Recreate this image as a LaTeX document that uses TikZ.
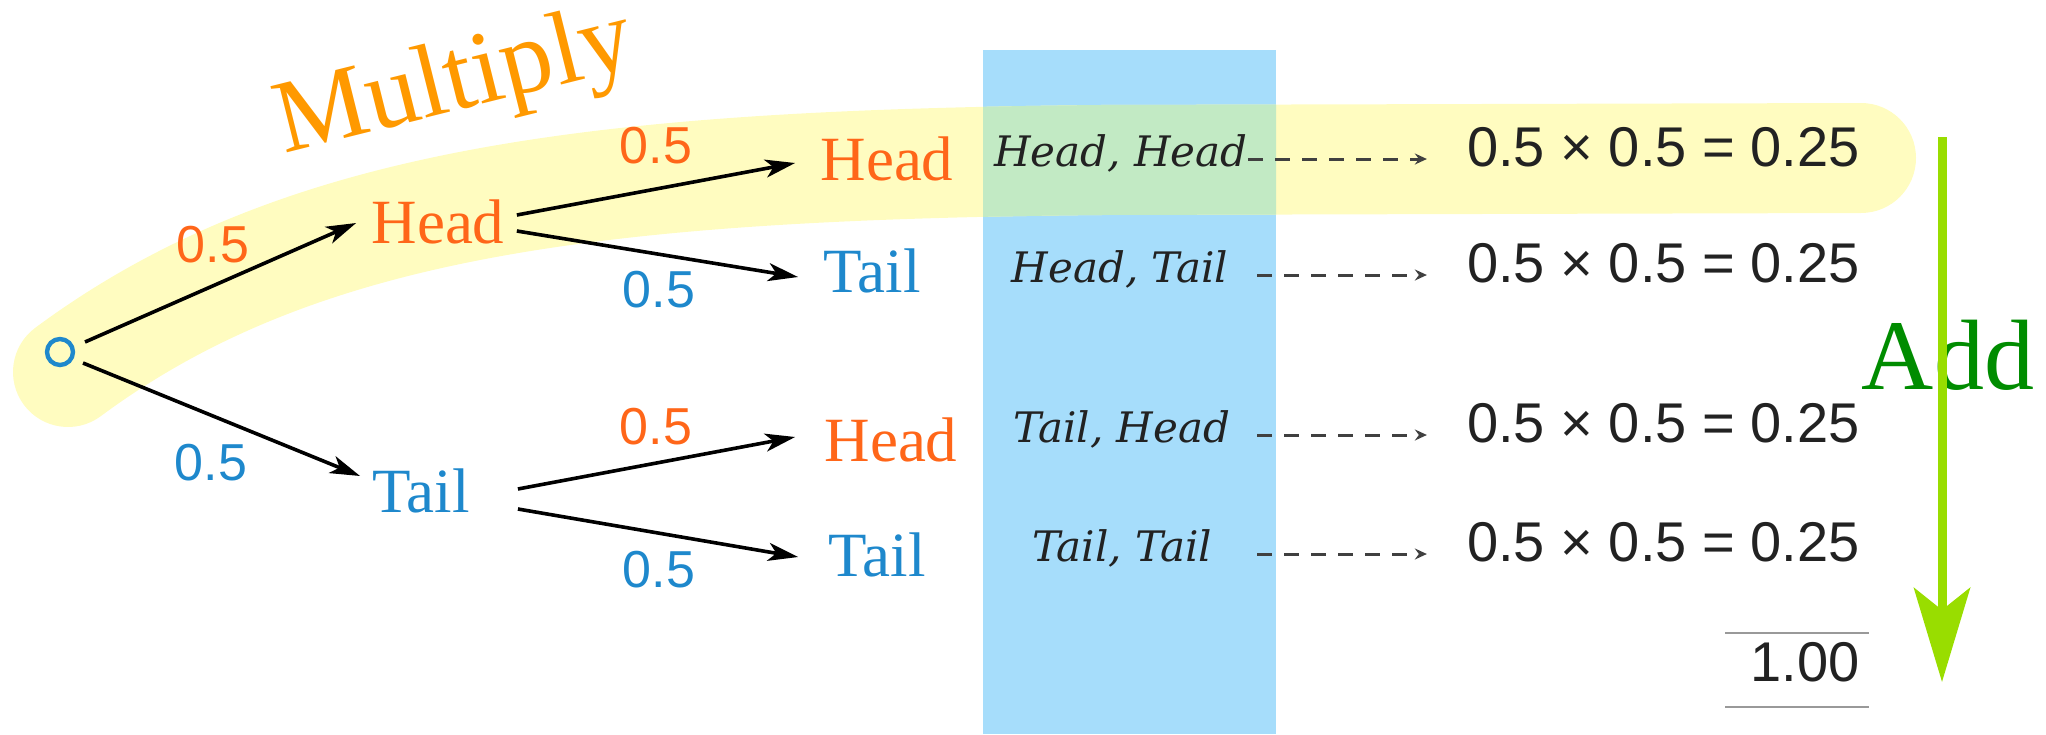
\documentclass[tikz,border=0pt]{standalone}
\usepackage{fontspec}
\setmainfont{Liberation Serif}
\newfontfamily\sansf{Liberation Sans}
\newfontfamily\combof{DejaVu Serif}
\usetikzlibrary{arrows.meta,calc}
\definecolor{hcol}{HTML}{FF6619}
\definecolor{tcol}{HTML}{1E88CC}
\definecolor{mulcol}{HTML}{FF9900}
\definecolor{addcol}{HTML}{008C00}
\definecolor{addarrow}{HTML}{99DD00}
\definecolor{bandblue}{HTML}{A6DDFB}
\definecolor{bandyellow}{HTML}{FFFCC0}
\definecolor{bandgreen}{HTML}{C2EAC4}
\definecolor{prodcol}{HTML}{222222}
\definecolor{rulegrey}{HTML}{999999}
\begin{document}
\begin{tikzpicture}[x=0.5pt,y=-0.5pt,
  treen/.style={inner sep=0pt, font=\fontsize{31.5}{36}\selectfont},
  headn/.style={treen, text=hcol},
  tailn/.style={treen, text=tcol},
  probh/.style={inner sep=0pt, text=hcol, font=\sansf\fontsize{26}{30}\selectfont},
  probt/.style={inner sep=0pt, text=tcol, font=\sansf\fontsize{26}{30}\selectfont},
  combo/.style={inner sep=0pt, text=prodcol, text height=0.73em, text depth=0pt, font=\combof\itshape\fontsize{21}{25}\selectfont},
  prod/.style={inner sep=0pt, anchor=east, text=prodcol, text height=0.716em, text depth=0pt, font=\sansf\fontsize{28}{32}\selectfont},
  treearr/.style={-{Stealth[length=15pt,width=9pt,inset=4pt]}, line width=1.8pt, black},
  dasharr/.style={-{Stealth[length=6pt,width=5.5pt,inset=2pt]}, line width=1.5pt, dash pattern=on 7.5pt off 6pt, black!75},
  rulel/.style={line width=1.3pt, rulegrey},
  band/.style={line width=55pt, line cap=round}
]
\useasboundingbox (0,0) rectangle (2046,734);
% blue column
\fill[bandblue] (983,50) rectangle (1276,734);
% yellow highlight path
\draw[band, bandyellow] (68,372) .. controls (300,200) and (600,165) .. (1100,160) -- (1861,158);
\begin{scope}
  \clip (983,50) rectangle (1276,734);
  \draw[band, bandgreen] (68,372) .. controls (300,200) and (600,165) .. (1100,160) -- (1861,158);
\end{scope}

% Multiply
\node[inner sep=0pt, text=mulcol, font=\fontsize{52}{60}\selectfont, rotate=14, anchor=base west] (mult) at (284,154) {Multiply};

% tree
\node[circle, draw=tcol, line width=2.2pt, minimum size=13pt, inner sep=0pt] (root) at (60,352) {};
\node[headn] (H1) at (438,222) {Head};
\node[tailn] (T1) at (421,491) {Tail};
\node[headn] (HH) at (887,159) {Head};
\node[tailn] (HT) at (872,271) {Tail};
\node[headn] (TH) at (891,440) {Head};
\node[tailn] (TT) at (877,555) {Tail};

\draw[treearr] ($(root)+(25,-10)$) -- ($(H1.west)+(-15,1)$);
\draw[treearr] ($(root)+(23,11)$) -- ($(T1.west)+(-12,-15)$);
\draw[treearr] ($(H1.east)+(12,-7)$) -- ($(HH.west)+(-25,4)$);
\draw[treearr] ($(H1.east)+(12,9)$) -- ($(HT.west)+(-25,6)$);
\draw[treearr] ($(T1.east)+(48,-2)$) -- ($(TH.west)+(-29,-3)$);
\draw[treearr] ($(T1.east)+(48,18)$) -- ($(TT.west)+(-30,2)$);

\node[probh] (p1) at (213,245) {0.5};
\node[probt] (p2) at (211,463) {0.5};
\node[probh] (p3) at (656,146) {0.5};
\node[probt] (p4) at (659,290) {0.5};
\node[probh] (p5) at (656,427) {0.5};
\node[probt] (p6) at (659,570) {0.5};

% outcomes
\node[combo] (HHc) at (1121,159) {Head, Head};
\node[combo] (HTc) at (1120,275) {Head, Tail};
\node[combo] (THc) at (1122,435) {Tail, Head};
\node[combo] (TTc) at (1122,554) {Tail, Tail};

\node[prod] (HHp) at (1860,159) {0.5 × 0.5 = 0.25};
\node[prod] (HTp) at (1860,275) {0.5 × 0.5 = 0.25};
\node[prod] (THp) at (1860,435) {0.5 × 0.5 = 0.25};
\node[prod] (TTp) at (1860,554) {0.5 × 0.5 = 0.25};
\node[prod] (sum) at (1860,674) {1.00};

\coordinate (ds) at (1257,0);
\draw[dasharr] (HHc.east) -- ($(HHp.west)+(-40,0)$);
\draw[dasharr] (HTc.east -| ds) -- ($(HTp.west)+(-40,0)$);
\draw[dasharr] (THc.east -| ds) -- ($(THp.west)+(-40,0)$);
\draw[dasharr] (TTc.east -| ds) -- ($(TTp.west)+(-40,0)$);

\draw[rulel] (1725,633) -- (1869,633);
\draw[rulel] (1725,707) -- (1869,707);

% Add
\node[inner sep=0pt, text=addcol, font=\fontsize{50}{60}\selectfont] (add) at (1948,355) {Add};
\coordinate (addtop) at (1942,137);
\coordinate (addbot) at (1942,682);
\draw[line width=4.5pt, addarrow, -{Stealth[length=47pt,width=28pt,inset=11pt]}] (addtop) -- (addbot);
\end{tikzpicture}
\end{document}
